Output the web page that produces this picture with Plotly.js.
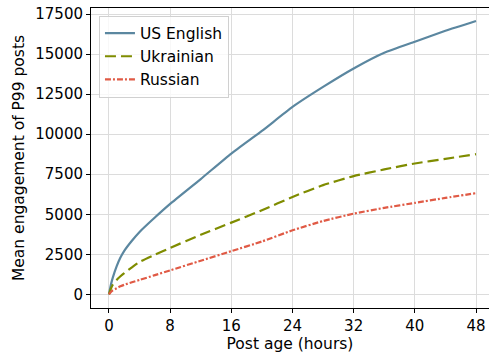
<!DOCTYPE html>
<html>
<head>
<meta charset="utf-8">
<script src="https://cdn.plot.ly/plotly-3.0.1.min.js"></script>
<style>html,body{margin:0;padding:0;background:#fff}#chart{width:489px;height:356px}</style>
</head>
<body>
<div id="chart"></div>
<script>
const hours = [0, 0.25, 0.5, 1, 1.5, 2, 3, 4, 6, 8, 12, 16, 20, 24, 28, 32, 36, 40, 44, 48];
const usEnglish = [0, 600, 1050, 1750, 2300, 2720, 3350, 3900, 4800, 5650, 7200, 8790, 10200, 11700, 12950, 14100, 15080, 15770, 16450, 17060];
const ukrainian = [0, 350, 600, 900, 1130, 1330, 1690, 2020, 2470, 2900, 3720, 4480, 5250, 6080, 6820, 7380, 7800, 8170, 8460, 8750];
const russian = [0, 150, 250, 380, 500, 600, 760, 900, 1200, 1500, 2100, 2700, 3300, 4000, 4580, 5040, 5400, 5710, 6020, 6320];
const seriesNames = ["US English", "Ukrainian", "Russian"];
const xTicks = [0, 8, 16, 24, 32, 40, 48];
const yTicks = [0, 2500, 5000, 7500, 10000, 12500, 15000, 17500];

const font = "DejaVu Sans, sans-serif";
const traces = [
  {x: hours, y: usEnglish, name: seriesNames[0], mode: "lines",
   line: {color: "#5b87a0", width: 2.2, shape: "spline", smoothing: 0.5}},
  {x: hours, y: ukrainian, name: seriesNames[1], mode: "lines",
   line: {color: "#7f8c00", width: 2.2, dash: "11px,5px", shape: "spline", smoothing: 0.5}},
  {x: hours, y: russian, name: seriesNames[2], mode: "lines",
   line: {color: "#e05a45", width: 2.2, dash: "6px,2px,2px,2px", shape: "spline", smoothing: 0.5}}
];
const layout = {
  width: 489, height: 356,
  margin: {l: 91, r: 0, t: 8, b: 48},
  paper_bgcolor: "#fff", plot_bgcolor: "#fff",
  font: {family: font, size: 15, color: "#000"},
  showlegend: true,
  legend: {x: 0.02, y: 0.975, xanchor: "left", yanchor: "top",
    bgcolor: "rgba(255,255,255,0.8)", bordercolor: "#d0d0d0", borderwidth: 1,
    font: {family: font, size: 15.5}, tracegroupgap: 0},
  xaxis: {range: [-2.35, 49.7], tickvals: xTicks, ticktext: xTicks.map(String),
    showgrid: true, gridcolor: "#dcdcdc", gridwidth: 1, zeroline: false,
    showline: true, linecolor: "#000", linewidth: 1, mirror: true,
    ticks: "outside", ticklen: 4, tickcolor: "#000",
    tickfont: {family: font, size: 15},
    title: {text: "Post age (hours)", font: {family: font, size: 15.5}, standoff: 4}},
  yaxis: {range: [-850, 17875], tickvals: yTicks, ticktext: yTicks.map(String),
    showgrid: true, gridcolor: "#dcdcdc", gridwidth: 1, zeroline: false,
    showline: true, linecolor: "#000", linewidth: 1, mirror: false,
    ticks: "outside", ticklen: 4, tickcolor: "#000",
    tickfont: {family: font, size: 15},
    title: {text: "Mean engagement of P99 posts", font: {family: font, size: 15.5}, standoff: 6}}
};
Plotly.newPlot("chart", traces, layout, {displayModeBar: false, staticPlot: true});
</script>
</body>
</html>
